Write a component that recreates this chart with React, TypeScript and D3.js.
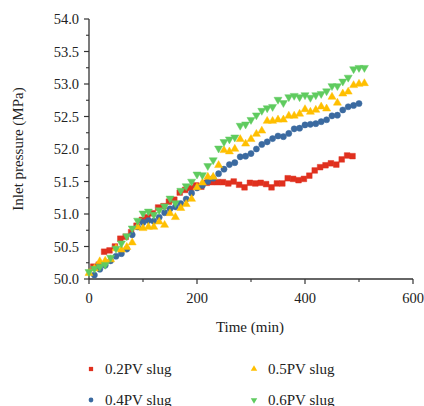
import React from "react";
import * as d3 from "d3";

const xTicks = [0, 200, 400, 600];
const xMinor = [100, 300, 500];
const yTicks = [50.0, 50.5, 51.0, 51.5, 52.0, 52.5, 53.0, 53.5, 54.0];
const yMinor = [50.25, 50.75, 51.25, 51.75, 52.25, 52.75, 53.25, 53.75];

const redT = [8, 18, 28, 38, 48, 58, 68, 78, 88, 98, 108, 118, 128, 138, 148, 158, 168, 178, 188, 198, 208, 218, 228, 238, 248, 258, 268, 278, 288, 298, 308, 318, 328, 338, 348, 358, 368, 378, 388, 398, 408, 418, 428, 438, 448, 458, 468, 478, 488];
const redP = [50.19, 50.22, 50.42, 50.44, 50.5, 50.62, 50.65, 50.72, 50.82, 50.91, 50.95, 51.01, 51.1, 51.12, 51.19, 51.22, 51.33, 51.37, 51.4, 51.44, 51.42, 51.48, 51.49, 51.49, 51.49, 51.47, 51.5, 51.45, 51.41, 51.48, 51.47, 51.48, 51.46, 51.41, 51.47, 51.47, 51.55, 51.54, 51.52, 51.54, 51.59, 51.67, 51.72, 51.75, 51.78, 51.76, 51.84, 51.9, 51.89];

const blueT = [10, 20, 30, 40, 50, 60, 70, 80, 90, 100, 110, 120, 130, 140, 150, 160, 170, 180, 190, 200, 210, 220, 230, 240, 250, 260, 270, 280, 290, 300, 310, 320, 330, 340, 350, 360, 370, 380, 390, 400, 410, 420, 430, 440, 450, 460, 470, 480, 490, 500];
const blueP = [50.06, 50.15, 50.21, 50.28, 50.35, 50.39, 50.46, 50.68, 50.8, 50.87, 50.9, 50.89, 50.95, 51.02, 51.08, 51.11, 51.16, 51.23, 51.32, 51.4, 51.44, 51.5, 51.55, 51.62, 51.69, 51.76, 51.79, 51.88, 51.89, 51.93, 52.0, 52.07, 52.11, 52.16, 52.2, 52.19, 52.24, 52.31, 52.32, 52.37, 52.38, 52.39, 52.42, 52.45, 52.51, 52.52, 52.6, 52.65, 52.67, 52.7];

const yellowT = [0, 10, 20, 30, 40, 50, 60, 70, 80, 90, 100, 110, 120, 130, 140, 150, 160, 170, 180, 190, 200, 210, 220, 230, 240, 250, 260, 270, 280, 290, 300, 310, 320, 330, 340, 350, 360, 370, 380, 390, 400, 410, 420, 430, 440, 450, 460, 470, 480, 490, 500, 510];
const yellowP = [50.09, 50.16, 50.27, 50.28, 50.3, 50.47, 50.45, 50.49, 50.56, 50.8, 50.78, 50.8, 50.8, 50.88, 50.83, 51.01, 50.95, 51.09, 51.15, 51.23, 51.41, 51.48, 51.57, 51.57, 51.75, 51.98, 51.96, 52.0, 52.15, 52.08, 52.15, 52.23, 52.28, 52.43, 52.43, 52.45, 52.45, 52.51, 52.51, 52.54, 52.61, 52.57, 52.6, 52.65, 52.62, 52.8, 52.71, 52.85, 52.88, 52.98, 53.0, 53.01];

const greenT = [0, 10, 20, 30, 40, 50, 60, 70, 80, 90, 100, 110, 120, 130, 140, 150, 160, 170, 180, 190, 200, 210, 220, 230, 240, 250, 260, 270, 280, 290, 300, 310, 320, 330, 340, 350, 360, 370, 380, 390, 400, 410, 420, 430, 440, 450, 460, 470, 480, 490, 500, 510];
const greenP = [50.11, 50.16, 50.19, 50.22, 50.33, 50.47, 50.55, 50.66, 50.78, 50.9, 51.01, 51.04, 50.99, 51.06, 51.12, 51.24, 51.17, 51.36, 51.43, 51.5, 51.61, 51.6, 51.74, 51.83, 52.01, 52.11, 52.15, 52.18, 52.36, 52.38, 52.45, 52.52, 52.59, 52.63, 52.65, 52.76, 52.71, 52.8, 52.82, 52.8, 52.83, 52.79, 52.83, 52.85, 52.89, 52.97, 52.97, 53.04, 53.1, 53.23, 53.25, 53.25];

const seriesNames = ["0.2PV slug", "0.4PV slug", "0.5PV slug", "0.6PV slug"];
const seriesColors = ["#e0301e", "#3b6aa0", "#ffbf00", "#5fcb5f"];

const FONT = "'Liberation Serif', 'DejaVu Serif', serif";
const TEXT = "#222";
const AXIS = "#333";

export default function App() {
  const x = d3.scaleLinear().domain([0, 600]).range([89, 413]);
  const y = d3.scaleLinear().domain([50, 54]).range([279, 19]);

  const square = d3.symbol().type(d3.symbolSquare).size(32)() as string;
  const circle = d3.symbol().type(d3.symbolCircle).size(30)() as string;
  const tri = d3.symbol().type(d3.symbolTriangle).size(28)() as string;
  const sqS = d3.symbol().type(d3.symbolSquare).size(18)() as string;
  const ciS = d3.symbol().type(d3.symbolCircle).size(18)() as string;
  const trS = d3.symbol().type(d3.symbolTriangle).size(18)() as string;

  const series = [
    { t: redT, p: redP, path: square, legend: sqS, rot: 0 },
    { t: blueT, p: blueP, path: circle, legend: ciS, rot: 0 },
    { t: yellowT, p: yellowP, path: tri, legend: trS, rot: 0 },
    { t: greenT, p: greenP, path: tri, legend: trS, rot: 180 },
  ];
  const drawOrder = [0, 1, 2, 3];

  const legendPos = [
    { x: 91, y: 369 },
    { x: 91, y: 400 },
    { x: 254, y: 369 },
    { x: 254, y: 400 },
  ];

  return (
    <svg
      width={424}
      height={406}
      style={{ position: "absolute", left: 0, top: 0, background: "#fff" }}
      fontFamily={FONT}
    >
      {/* axes */}
      <line x1={89} x2={89} y1={y(54)} y2={y(50)} stroke={AXIS} strokeWidth={1.3} />
      <line x1={89} x2={x(600)} y1={279} y2={279} stroke={AXIS} strokeWidth={1.3} />
      {yTicks.map((v) => (
        <g key={"yt" + v}>
          <line x1={84} x2={89} y1={y(v)} y2={y(v)} stroke={AXIS} strokeWidth={1.2} />
          <text x={79} y={y(v)} dy="0.35em" textAnchor="end" fontSize={14.5} fill={TEXT}>
            {v.toFixed(1)}
          </text>
        </g>
      ))}
      {yMinor.map((v) => (
        <line key={"ym" + v} x1={86} x2={89} y1={y(v)} y2={y(v)} stroke={AXIS} strokeWidth={1.1} />
      ))}
      {xTicks.map((v) => (
        <g key={"xt" + v}>
          <line x1={x(v)} x2={x(v)} y1={279} y2={284} stroke={AXIS} strokeWidth={1.2} />
          <text x={x(v)} y={303} textAnchor="middle" fontSize={14.5} fill={TEXT}>
            {v}
          </text>
        </g>
      ))}
      {xMinor.map((v) => (
        <line key={"xm" + v} x1={x(v)} x2={x(v)} y1={279} y2={282} stroke={AXIS} strokeWidth={1.1} />
      ))}
      <text x={250} y={332} textAnchor="middle" fontSize={15} fill={TEXT}>
        Time (min)
      </text>
      <text
        transform={`translate(23, ${y(52)}) rotate(-90)`}
        textAnchor="middle"
        fontSize={15}
        fill={TEXT}
      >
        Inlet pressure (MPa)
      </text>

      {/* markers */}
      {drawOrder.map((si) => {
        const s = series[si];
        return (
          <g key={"s" + si} fill={seriesColors[si]}>
            {s.t.map((t, i) => (
              <path
                key={i}
                d={s.path}
                transform={`translate(${x(t)}, ${y(s.p[i])})${s.rot ? " rotate(180)" : ""}`}
                stroke={seriesColors[si]}
                strokeOpacity={0.45}
                strokeWidth={1}
              />
            ))}
          </g>
        );
      })}

      {/* legend */}
      {seriesNames.map((n, i) => (
        <g key={"lg" + i}>
          <path
            d={series[i].legend}
            fill={seriesColors[i]}
            transform={`translate(${legendPos[i].x}, ${legendPos[i].y})${series[i].rot ? " rotate(180)" : ""}`}
          />
          <text x={legendPos[i].x + 14} y={legendPos[i].y + 5} fontSize={15} fill={TEXT}>
            {n}
          </text>
        </g>
      ))}
    </svg>
  );
}
